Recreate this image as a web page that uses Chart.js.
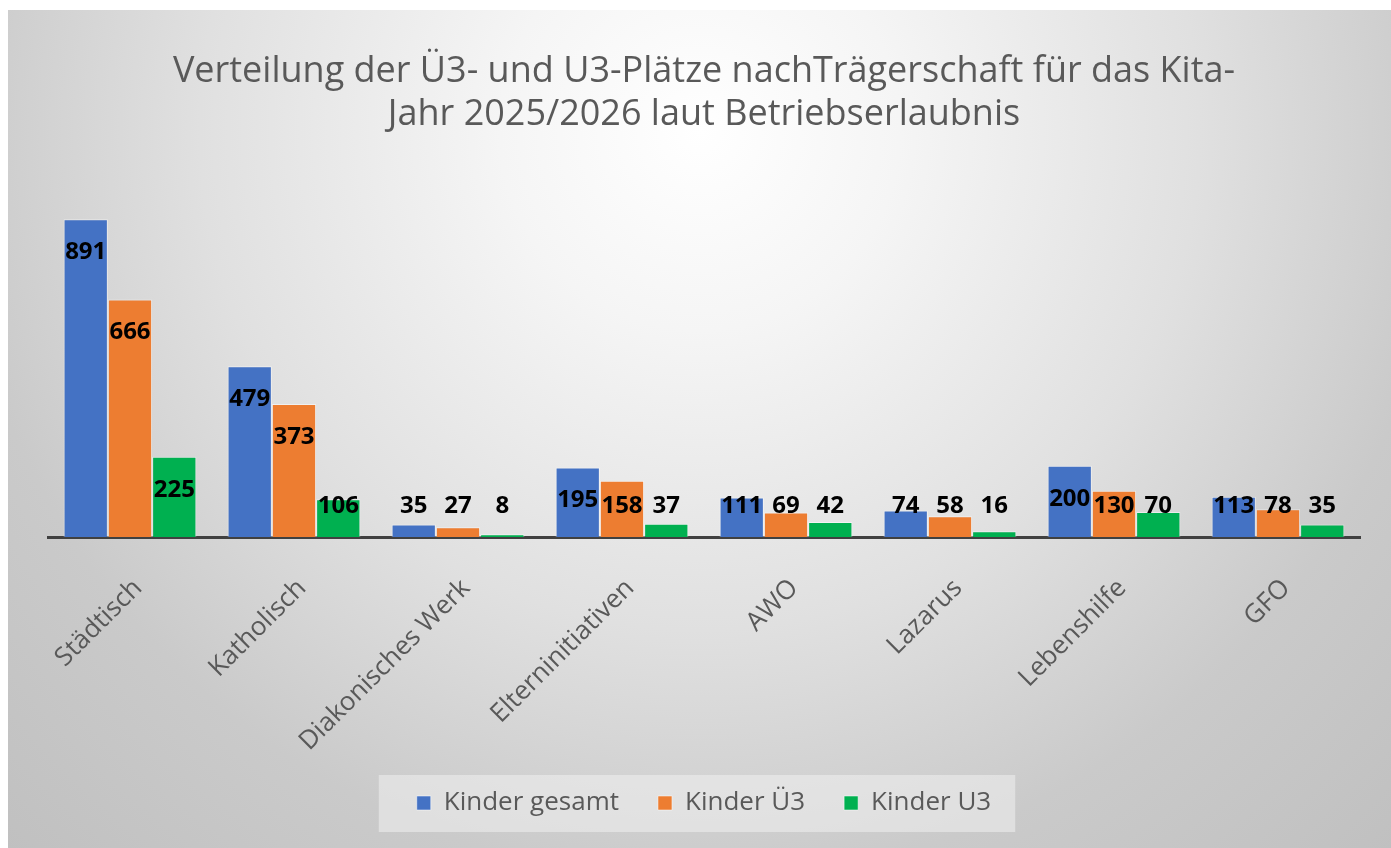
<!DOCTYPE html>
<html>
<head>
<meta charset="utf-8">
<script src="https://cdn.jsdelivr.net/npm/chart.js@4.4.1/dist/chart.umd.min.js"></script>
<style>
  html, body { margin: 0; padding: 0; background: #ffffff; }
  #wrap { width: 1391px; height: 848px; position: relative; }
</style>
</head>
<body>
<div id="wrap"><canvas id="c" width="1391" height="848"></canvas></div>
<script>
const titleLines = ['Verteilung der Ü3- und U3-Plätze nachTrägerschaft für das Kita-', 'Jahr 2025/2026 laut Betriebserlaubnis'];
const categories = ['Städtisch', 'Katholisch', 'Diakonisches Werk', 'Elterninitiativen', 'AWO', 'Lazarus', 'Lebenshilfe', 'GFO'];
const seriesNames = ['Kinder gesamt', 'Kinder Ü3', 'Kinder U3'];
const kinderGesamt = [891, 479, 35, 195, 111, 74, 200, 113];
const kinderU3plus = [666, 373, 27, 158, 69, 58, 130, 78];
const kinderU3 = [225, 106, 8, 37, 42, 16, 70, 35];
const seriesColors = ['#4472C4', '#ED7D31', '#00B050'];

const FONT = "'Open Sans', 'Liberation Sans', sans-serif";

const bgPlugin = {
  id: 'bg',
  beforeDraw(chart) {
    const ctx = chart.ctx;
    const w = chart.width, h = chart.height;
    ctx.save();
    ctx.fillStyle = '#ffffff';
    ctx.fillRect(0, 0, w, h);
    const g = ctx.createRadialGradient(700, 130, 0, 700, 130, 1000);
    g.addColorStop(0, '#ffffff');
    g.addColorStop(0.2, '#f5f5f5');
    g.addColorStop(0.5, '#e0e0e0');
    g.addColorStop(0.75, '#cacaca');
    g.addColorStop(1, '#c0c0c0');
    ctx.fillStyle = g;
    ctx.fillRect(8, 10, w - 8, h - 10);
    // legend background box
    const lg = chart.legend;
    if (lg && lg.legendHitBoxes && lg.legendHitBoxes.length) {
      const hb = lg.legendHitBoxes;
      const l = hb[0].left, r = hb[hb.length - 1].left + hb[hb.length - 1].width;
      const cy = hb[0].top + hb[0].height / 2;
      ctx.fillStyle = 'rgba(240,240,240,0.55)';
      ctx.fillRect(l - 38, cy - 28, (r - l) + 62, 57);
    }
    ctx.restore();
  }
};

const labelPlugin = {
  id: 'valueLabels',
  afterDatasetsDraw(chart) {
    const ctx = chart.ctx;
    const base = chart.chartArea.bottom;
    ctx.save();
    ctx.font = "bold 24px " + FONT;
    ctx.fillStyle = '#000000';
    ctx.textAlign = 'center';
    ctx.textBaseline = 'middle';
    chart.data.datasets.forEach((ds, di) => {
      const meta = chart.getDatasetMeta(di);
      meta.data.forEach((el, i) => {
        const y = Math.min(el.y + 33, base - 31);
        ctx.fillText(String(ds.data[i]), el.x, y);
      });
    });
    ctx.restore();
  }
};

const seriesData = [kinderGesamt, kinderU3plus, kinderU3];

new Chart(document.getElementById('c'), {
  type: 'bar',
  data: {
    labels: categories,
    datasets: seriesNames.map((n, i) => ({
      label: n,
      data: seriesData[i],
      backgroundColor: seriesColors[i],
      borderColor: 'rgba(255,255,255,0.5)',
      borderWidth: 1,
      borderSkipped: 'bottom',
      categoryPercentage: 0.81,
      barPercentage: 1.0
    }))
  },
  options: {
    responsive: false,
    animation: false,
    devicePixelRatio: 1,
    layout: { padding: { left: 48, right: 31, top: 0, bottom: 22 } },
    plugins: {
      title: {
        display: true,
        text: titleLines,
        color: '#595959',
        font: { family: FONT, size: 36, weight: 'normal', lineHeight: 1.2 },
        padding: { top: 50, bottom: 44 }
      },
      legend: {
        position: 'bottom',
        labels: {
          color: '#595959',
          font: { family: FONT, size: 26 },
          boxWidth: 14,
          boxHeight: 14,
          padding: 39
        }
      },
      tooltip: { enabled: false }
    },
    scales: {
      x: {
        grid: { display: false, drawTicks: false },
        border: { display: true, color: '#404040', width: 3 },
        ticks: {
          color: '#595959',
          font: { family: FONT, size: 26 },
          minRotation: 45,
          maxRotation: 45,
          autoSkip: false,
          padding: 36,
          labelOffset: 8
        },
        afterFit(scale) { scale.height = 214; }
      },
      y: {
        display: false,
        min: 0,
        max: 1000
      }
    }
  },
  plugins: [bgPlugin, labelPlugin]
});
</script>
</body>
</html>
